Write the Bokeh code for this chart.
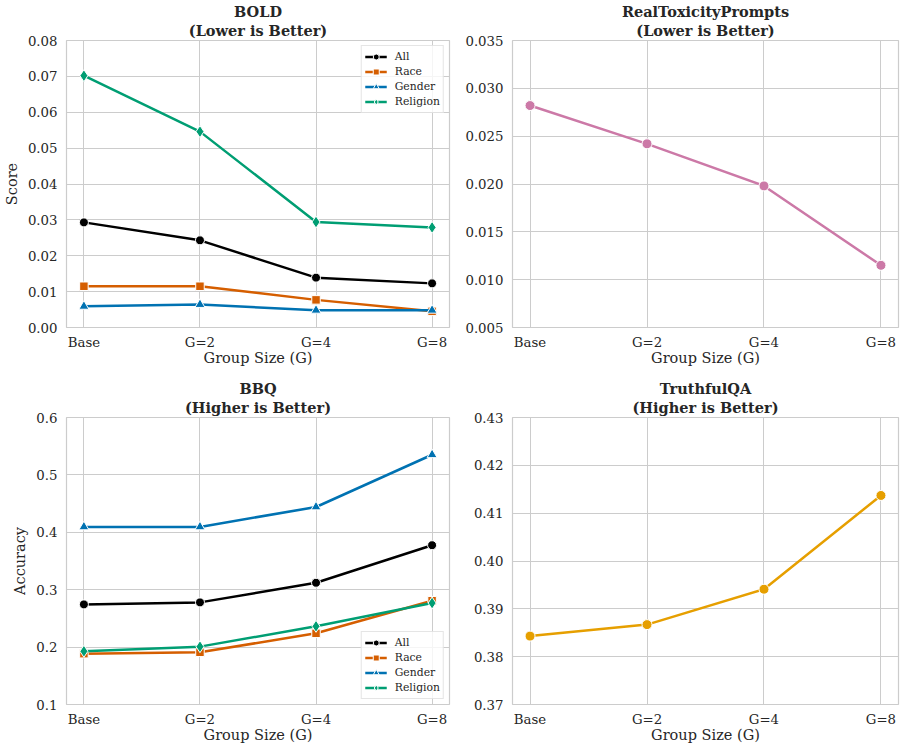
from bokeh.plotting import figure
from bokeh.layouts import gridplot
from bokeh.models import (Range1d, FixedTicker, Title, Legend, LegendItem,
                          ColumnDataSource, NumeralTickFormatter)
from bokeh.embed import file_html
from bokeh.resources import INLINE

# ---------------- data ----------------
categories = ["Base", "G=2", "G=4", "G=8"]

bold_all = [0.0293, 0.0243, 0.0139, 0.0123]
bold_race = [0.0115, 0.0115, 0.0077, 0.0045]
bold_gender = [0.0059, 0.0064, 0.0048, 0.0048]
bold_religion = [0.0702, 0.0546, 0.0294, 0.0279]

rtp_score = [0.0282, 0.0242, 0.0198, 0.0115]

bbq_all = [0.2744, 0.2779, 0.3121, 0.3775]
bbq_race = [0.1886, 0.1910, 0.2240, 0.2808]
bbq_gender = [0.4094, 0.4094, 0.4441, 0.5351]
bbq_religion = [0.1927, 0.2008, 0.2362, 0.2767]

tqa_acc = [0.3843, 0.3867, 0.3941, 0.4137]

bold_ticks = [0.00, 0.01, 0.02, 0.03, 0.04, 0.05, 0.06, 0.07, 0.08]
rtp_ticks = [0.005, 0.010, 0.015, 0.020, 0.025, 0.030, 0.035]
bbq_ticks = [0.1, 0.2, 0.3, 0.4, 0.5, 0.6]
tqa_ticks = [0.37, 0.38, 0.39, 0.40, 0.41, 0.42, 0.43]

# ---------------- style ----------------
FONT = "DejaVu Serif"
TEXT = "#262626"
GRID = "#cccccc"
C_ALL = "#000000"
C_RACE = "#D55E00"
C_GENDER = "#0072B2"
C_REL = "#009E73"
C_RTP = "#CC79A7"
C_TQA = "#E69F00"

xs = list(range(len(categories)))


def make_fig(width, height, bl, br, bt, bb, yticks, fmt, t1, t2, ylabel):
    p = figure(width=width, height=height,
               x_range=Range1d(-0.15, len(categories) - 1 + 0.15),
               y_range=Range1d(yticks[0], yticks[-1]),
               output_backend="svg", toolbar_location=None, title=None,
               min_border_left=bl, min_border_right=br,
               min_border_top=bt, min_border_bottom=bb)
    p.add_layout(Title(text=t2, align="center", text_font=FONT, text_font_size="14.5px",
                       text_font_style="bold", text_color=TEXT, standoff=4), "above")
    p.add_layout(Title(text=t1, align="center", text_font=FONT, text_font_size="14.5px",
                       text_font_style="bold", text_color=TEXT, standoff=-5), "above")
    p.background_fill_color = "white"
    p.border_fill_color = "white"
    p.outline_line_color = GRID
    p.outline_line_width = 1.2

    p.xaxis.ticker = FixedTicker(ticks=xs)
    p.xaxis.major_label_overrides = {i: c for i, c in enumerate(categories)}
    p.yaxis.ticker = FixedTicker(ticks=yticks)
    p.yaxis.formatter = NumeralTickFormatter(format=fmt)
    p.xaxis.axis_label = "Group Size (G)"
    if ylabel:
        p.yaxis.axis_label = ylabel
    for ax in (p.xaxis[0], p.yaxis[0]):
        ax.axis_line_color = None
        ax.major_tick_line_color = None
        ax.minor_tick_line_color = None
        ax.major_tick_out = 0
        ax.major_tick_in = 0
        ax.major_label_text_font = FONT
        ax.major_label_text_font_size = "13.3px"
        ax.major_label_text_color = TEXT
        ax.axis_label_text_font = FONT
        ax.axis_label_text_font_size = "14.5px"
        ax.axis_label_text_font_style = "normal"
        ax.axis_label_text_color = TEXT
    p.xaxis.major_label_standoff = 7
    p.xaxis.axis_label_standoff = -3
    p.yaxis.major_label_standoff = 9
    p.yaxis.axis_label_standoff = 5
    p.xgrid.grid_line_color = GRID
    p.ygrid.grid_line_color = GRID
    p.xgrid.grid_line_width = 1
    p.ygrid.grid_line_width = 1
    return p


def add_series(p, src, col, color, marker, size):
    l = p.line(x="x", y=col, source=src, line_color=color, line_width=2.5)
    s = p.scatter(x="x", y=col, source=src, marker=marker, size=size,
                  fill_color=color, line_color="white", line_width=1)
    return [l, s]


def add_legend(p, items, loc):
    lg = Legend(items=[LegendItem(label=lab, renderers=r) for lab, r in items],
                location=loc, margin=5, padding=3, spacing=0,
                glyph_width=22, glyph_height=15, label_height=15,
                label_standoff=8, label_text_font=FONT,
                label_text_font_size="10.8px", label_text_color=TEXT,
                border_line_color=GRID, border_line_width=1,
                background_fill_color="white", background_fill_alpha=0.8)
    p.add_layout(lg)


# ---------------- BOLD ----------------
p1 = make_fig(452, 370, 62, 3, 40, 43, bold_ticks, "0.00", "BOLD", "(Lower is Better)", "Score")
src1 = ColumnDataSource(dict(x=xs, all=bold_all, race=bold_race,
                             gender=bold_gender, religion=bold_religion))
r_all = add_series(p1, src1, "all", C_ALL, "circle", 9)
r_race = add_series(p1, src1, "race", C_RACE, "square", 8.5)
r_gen = add_series(p1, src1, "gender", C_GENDER, "triangle", 10)
r_rel = add_series(p1, src1, "religion", C_REL, "diamond", 12)
add_legend(p1, [("All", r_all), ("Race", r_race), ("Gender", r_gen), ("Religion", r_rel)], "top_right")

# ---------------- RealToxicityPrompts ----------------
p2 = make_fig(453, 370, 60, 7, 40, 43, rtp_ticks, "0.000", "RealToxicityPrompts", "(Lower is Better)", None)
src2 = ColumnDataSource(dict(x=xs, v=rtp_score))
add_series(p2, src2, "v", C_RTP, "circle", 10)

# ---------------- BBQ ----------------
p3 = make_fig(452, 381, 62, 3, 47, 47, bbq_ticks, "0.0", "BBQ", "(Higher is Better)", "Accuracy")
src3 = ColumnDataSource(dict(x=xs, all=bbq_all, race=bbq_race,
                             gender=bbq_gender, religion=bbq_religion))
b_all = add_series(p3, src3, "all", C_ALL, "circle", 9)
b_race = add_series(p3, src3, "race", C_RACE, "square", 8.5)
b_gen = add_series(p3, src3, "gender", C_GENDER, "triangle", 10)
b_rel = add_series(p3, src3, "religion", C_REL, "diamond", 12)
add_legend(p3, [("All", b_all), ("Race", b_race), ("Gender", b_gen), ("Religion", b_rel)], "bottom_right")

# ---------------- TruthfulQA ----------------
p4 = make_fig(453, 381, 60, 7, 47, 47, tqa_ticks, "0.00", "TruthfulQA", "(Higher is Better)", None)
src4 = ColumnDataSource(dict(x=xs, v=tqa_acc))
add_series(p4, src4, "v", C_TQA, "circle", 10)

grid = gridplot([[p1, p2], [p3, p4]], toolbar_location=None)

open("out.html", "w").write(file_html(grid, INLINE))
